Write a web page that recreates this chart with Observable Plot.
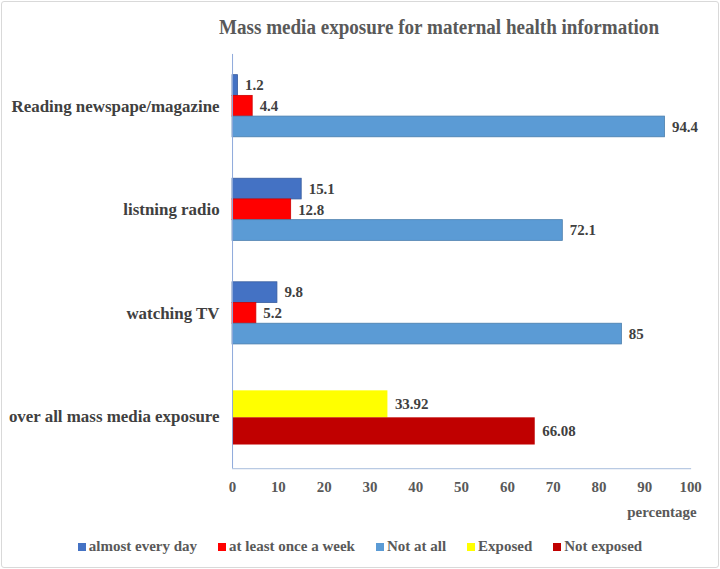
<!DOCTYPE html>
<html>
<head>
<meta charset="utf-8">
<script src="https://cdn.jsdelivr.net/npm/d3@7"></script>
<script src="https://cdn.jsdelivr.net/npm/@observablehq/plot@0.6"></script>
<style>
  html, body { margin: 0; padding: 0; background: #fff; }
  #chart {
    position: relative; width: 716px; height: 565px; margin: 1px;
    border: 1px solid #d9d9d9; border-radius: 3px; overflow: hidden;
    font-family: "Liberation Serif", "Times New Roman", serif; font-weight: bold;
  }
  #title {
    position: absolute; left: 217px; top: 14px; white-space: nowrap;
    font-size: 20px; color: #595959; transform-origin: left center;
  }
  #plot { position: absolute; left: -1px; top: 39px; }
  #legend {
    position: absolute; left: 0; top: 536px; width: 716px;
    display: flex; justify-content: center; gap: 21px;
    font-size: 15px; color: #595959; white-space: nowrap;
  }
  #legend .item { display: flex; align-items: center; gap: 3px; }
  #legend .sw { width: 8px; height: 8px; display: inline-block; }
</style>
</head>
<body>
<div id="chart">
  <div id="title">Mass media exposure for maternal health information</div>
  <div id="plot"></div>
  <div id="legend"></div>
</div>
<script>
// ---- data ----
const categories = ["Reading newspape/magazine", "listning radio", "watching TV", "over all mass media exposure"];
const frequencySeries = ["almost every day", "at least once a week", "Not at all"];
const readingValues = [1.2, 4.4, 94.4];
const radioValues = [15.1, 12.8, 72.1];
const tvValues = [9.8, 5.2, 85];
const overallSeries = ["Exposed", "Not exposed"];
const overallValues = [33.92, 66.08];
const seriesNames = ["almost every day", "at least once a week", "Not at all", "Exposed", "Not exposed"];
const seriesColors = ["#4472C4", "#FF0000", "#5B9BD5", "#FFFF00", "#C00000"];
const xTicks = [0, 10, 20, 30, 40, 50, 60, 70, 80, 90, 100];
const axisTitle = "percentage";

// ---- table built from the arrays ----
const freqValues = [readingValues, radioValues, tvValues];
const slotNames = ["pad0", "0", "1", "2", "pad1"];
const yKeys = categories.flatMap(c => slotNames.map(s => c + "|" + s));
const labelKeys = categories.map(c => c + "|1");
const keyToCategory = new Map(categories.map(c => [c + "|1", c]));

const freqRows = freqValues.flatMap((vals, ci) =>
  vals.map((v, si) => ({key: categories[ci] + "|" + si, series: frequencySeries[si], value: v})));
const overallCat = categories[3];
const exposedRows = [{key: overallCat + "|0", series: overallSeries[0], value: overallValues[0]}];
const notExposedRows = [{key: overallCat + "|2", series: overallSeries[1], value: overallValues[1]}];

const colorOf = new Map(seriesNames.map((s, i) => [s, seriesColors[i]]));
const strokeOf = d => d3.color(colorOf.get(d.series)).darker(0.6).formatHex();
const fmt = d => String(d.value);

const labelStyle = {fontWeight: "bold", fontSize: 15, fill: "#404040", textAnchor: "start", dx: 7};

const plot = Plot.plot({
  width: 720,
  height: 487,
  marginTop: 13,
  marginBottom: 58,
  marginLeft: 232,
  marginRight: 28,
  style: {fontFamily: "'Liberation Serif', 'Times New Roman', serif", fontWeight: "bold", fontSize: "15px", color: "#595959", background: "transparent"},
  x: {domain: [0, 100], axis: null},
  y: {domain: yKeys, padding: 0, round: false, axis: null},
  color: {domain: seriesNames, range: seriesColors},
  marks: [
    Plot.barX(freqRows, {x: "value", y: "key", fill: "series", stroke: strokeOf, strokeWidth: 0.8}),
    Plot.barX(exposedRows, {x: "value", y: "key", fill: "series", insetTop: 5, insetBottom: -11.5}),
    Plot.barX(notExposedRows, {x: "value", y: "key", fill: "series", insetTop: -9.5, insetBottom: 3}),
    Plot.text(freqRows, {x: "value", y: "key", text: fmt, ...labelStyle}),
    Plot.text(exposedRows, {x: "value", y: "key", text: fmt, ...labelStyle, dy: 8.3}),
    Plot.text(notExposedRows, {x: "value", y: "key", text: fmt, ...labelStyle, dy: -6.3}),
    Plot.ruleX([0], {stroke: "#8EA9DB", strokeWidth: 1}),
    Plot.frame({anchor: "bottom", stroke: "#A6BBDC", strokeWidth: 1}),
    Plot.axisX({ticks: xTicks, tickSize: 0, tickPadding: 13, tickFormat: d => String(d), fontSize: 15, fontWeight: "bold", fill: "#595959", label: null}),
    Plot.axisY({ticks: labelKeys, tickSize: 0, tickPadding: 13, tickFormat: k => keyToCategory.get(k), fontSize: 17, fontWeight: "bold", fill: "#404040", label: null}),
    Plot.text([axisTitle], {frameAnchor: "bottom-right", textAnchor: "end", dx: 6, dy: 48, fontSize: 15, fontWeight: "bold", fill: "#595959"})
  ]
});
document.getElementById("plot").appendChild(plot);

// ---- legend ----
const legend = document.getElementById("legend");
seriesNames.forEach((s, i) => {
  const item = document.createElement("span");
  item.className = "item";
  const sw = document.createElement("span");
  sw.className = "sw";
  sw.style.background = seriesColors[i];
  const t = document.createElement("span");
  t.textContent = s;
  item.appendChild(sw);
  item.appendChild(t);
  legend.appendChild(item);
});

// fit title to the reference width
const title = document.getElementById("title");
const w = title.getBoundingClientRect().width;
title.style.transform = `scaleX(${440 / w})`;
</script>
</body>
</html>
